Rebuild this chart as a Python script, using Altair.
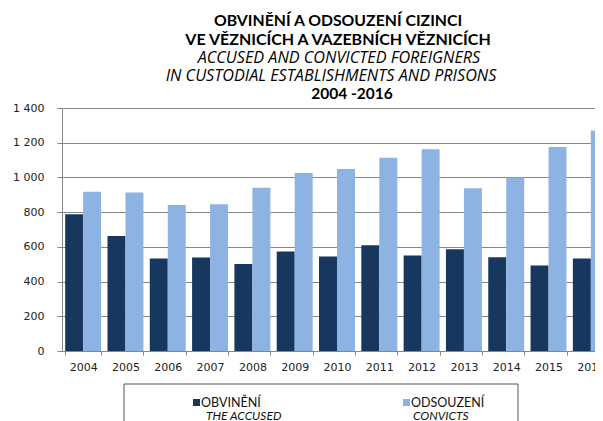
import altair as alt
import pandas as pd

years = ["2004", "2005", "2006", "2007", "2008", "2009", "2010",
         "2011", "2012", "2013", "2014", "2015", "2016"]
accused = [788, 662, 533, 539, 501, 573, 544, 609, 550, 586, 540, 492, 533]
convicts = [918, 913, 841, 846, 941, 1025, 1049, 1114, 1162, 938, 1000, 1175, 1270]

series_names = ["OBVINĚNÍ", "ODSOUZENÍ"]
series_sub = ["THE ACCUSED", "CONVICTS"]
series_colors = ["#17375E", "#8DB3E2"]

title_lines = [
    "OBVINĚNÍ A ODSOUZENÍ CIZINCI",
    "VE VĚZNICÍCH A VAZEBNÍCH VĚZNICÍCH",
    "ACCUSED AND CONVICTED FOREIGNERS",
    "IN CUSTODIAL ESTABLISHMENTS AND PRISONS",
    "2004 -2016",
]
y_ticks = [0, 200, 400, 600, 800, 1000, 1200, 1400]

rows = []
for i, y in enumerate(years):
    rows.append({"year": y, "series": series_names[0], "value": accused[i]})
    rows.append({"year": y, "series": series_names[1], "value": convicts[i]})
df = pd.DataFrame(rows)

FONT = "Lato"
IT_FONT = "Open Sans"
AXIS_FONT = "DejaVu Sans"

bars = alt.Chart(df).mark_bar().encode(
    x=alt.X("year:N", sort=years,
            scale=alt.Scale(range=[0, 550], paddingInner=0.15, paddingOuter=0.075),
            axis=alt.Axis(title=None, labelAngle=0, tickBand="extent", tickSize=4,
                          labelPadding=6, labelFont=AXIS_FONT, labelFontSize=11,
                          labelColor="#222222", domainColor="#868686", tickColor="#868686",
                          grid=False)),
    xOffset=alt.XOffset("series:N", sort=series_names,
                        scale=alt.Scale(paddingInner=0, paddingOuter=0)),
    y=alt.Y("value:Q", scale=alt.Scale(domain=[0, 1400], nice=False),
            axis=alt.Axis(title=None, values=y_ticks, tickSize=5, labelPadding=13,
                          labelFont=AXIS_FONT, labelFontSize=11, labelColor="#222222",
                          labelExpr="replace(format(datum.value, ','), ',', ' ')",
                          domainColor="#868686", tickColor="#868686",
                          gridColor="#868686", gridWidth=1)),
    color=alt.Color("series:N", sort=series_names,
                    scale=alt.Scale(domain=series_names, range=series_colors),
                    legend=None),
)

layers = [bars]

title_specs = [
    (title_lines[0], 276, -87, "bold", "normal", 15.8, FONT),
    (title_lines[1], 276, -68, "bold", "normal", 16, FONT),
    (title_lines[2], 277, -50.5, "normal", "italic", 16.2, IT_FONT),
    (title_lines[3], 269, -32.5, "normal", "italic", 16.2, IT_FONT),
    (title_lines[4], 290, -14, "bold", "normal", 15.5, FONT),
]
for txt, xx, yy, fw, fs, sz, fnt in title_specs:
    layers.append(
        alt.Chart(pd.DataFrame({"t": [txt]})).mark_text(
            font=fnt, fontSize=sz, fontWeight=fw, fontStyle=fs, color="#000000",
            align="center", baseline="middle"
        ).encode(text="t:N", x=alt.value(xx), y=alt.value(yy))
    )

# legend box
layers.append(
    alt.Chart(pd.DataFrame({"k": [0]})).mark_rect(
        fill="white", stroke="#555555", strokeWidth=1
    ).encode(x=alt.value(62), x2=alt.value(456), y=alt.value(276), y2=alt.value(330))
)
leg_x = [131, 341]
for i in range(2):
    layers.append(
        alt.Chart(pd.DataFrame({"k": [0]})).mark_rect(color=series_colors[i]).encode(
            x=alt.value(leg_x[i]), x2=alt.value(leg_x[i] + 7),
            y=alt.value(291), y2=alt.value(298))
    )
    layers.append(
        alt.Chart(pd.DataFrame({"t": [series_names[i]]})).mark_text(
            font=FONT, fontSize=12.5, color="#111111", align="left", baseline="middle"
        ).encode(text="t:N", x=alt.value(leg_x[i] + 8), y=alt.value(295))
    )
    layers.append(
        alt.Chart(pd.DataFrame({"t": [series_sub[i]]})).mark_text(
            font=FONT, fontSize=12, fontStyle="italic", color="#111111",
            align="left", baseline="middle"
        ).encode(text="t:N", x=alt.value(leg_x[i] + 13 - 3 * i), y=alt.value(307.5))
    )

chart = alt.layer(*layers).properties(
    width=533, height=243,
    autosize=alt.AutoSizeParams(type="none"),
    padding={"left": 54, "top": 100, "right": 0, "bottom": 70},
    background="white",
).configure_view(stroke=None)

chart.save("out.html", embed_options={"renderer": "svg", "actions": False})
